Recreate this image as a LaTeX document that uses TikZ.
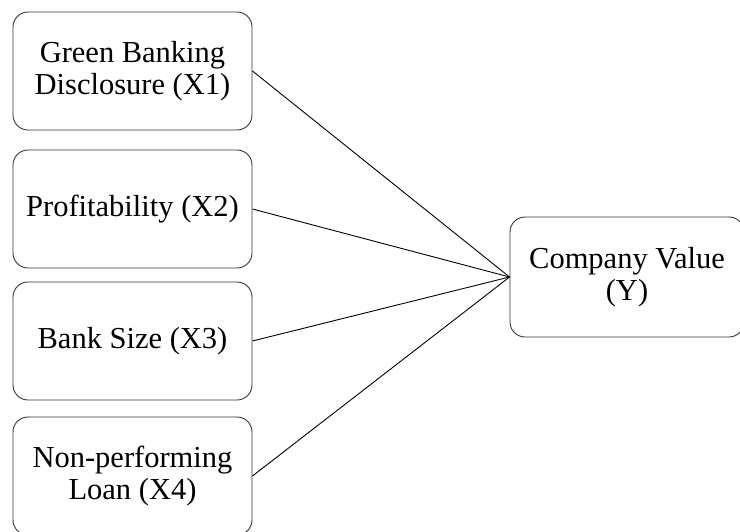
\documentclass[tikz,border=0pt]{standalone}
\usepackage{fontspec}
\setmainfont{Liberation Serif}
\begin{document}
\begin{tikzpicture}[x=1pt,y=-1pt,
  varbox/.style={draw=black!80, line width=0.9pt, rounded corners=15pt, minimum width=239pt, minimum height=118pt, inner sep=0pt, align=center, font=\fontsize{30.5}{32}\selectfont},
  ybox/.style={varbox, minimum width=234pt, minimum height=120pt},
  link/.style={draw=black, line width=0.9pt}]
\useasboundingbox (0,0) rectangle (740,531);
\node[varbox] (x1) at (132.5,71) {Green Banking\\Disclosure (X1)};
\node[varbox] (x2) at (132.5,209) {Profitability (X2)};
\node[varbox] (x3) at (132.5,341) {Bank Size (X3)};
\node[varbox] (x4) at (132.5,476) {Non-performing\\Loan (X4)};
\node[ybox] (y) at (627,277) {Company Value\\(Y)};
\draw[link] (x1.east) -- (y.west);
\draw[link] (x2.east) -- (y.west);
\draw[link] (x3.east) -- (y.west);
\draw[link] (x4.east) -- (y.west);
\end{tikzpicture}
\end{document}
